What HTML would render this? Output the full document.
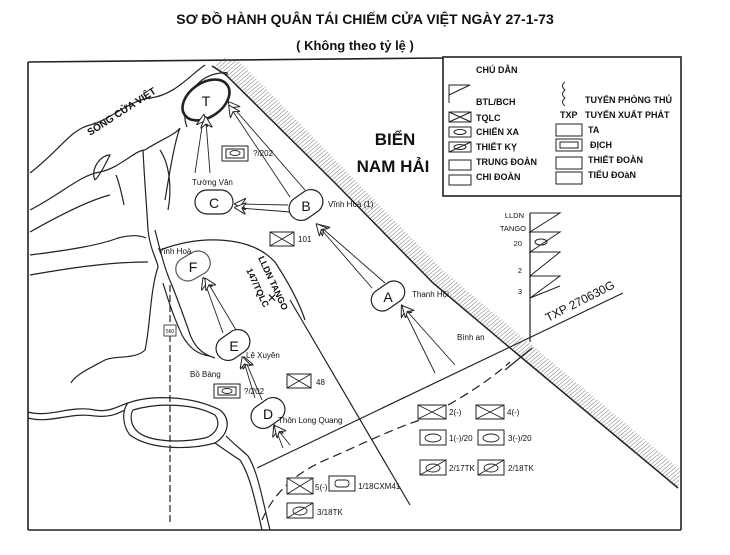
<!DOCTYPE html>
<html><head><meta charset="utf-8"><style>
body{margin:0;background:#fff;width:730px;height:555px;overflow:hidden}
svg{display:block}
text{font-family:"Liberation Sans",sans-serif;fill:#111}
</style></head><body>
<svg width="730" height="555" viewBox="0 0 730 555" xmlns="http://www.w3.org/2000/svg">
<defs>
<marker id="ah" viewBox="0 0 12 12" refX="6" refY="6" markerWidth="12" markerHeight="12" orient="auto" markerUnits="userSpaceOnUse">
<path d="M0,0 L12,6 L0,12 L4,6 Z" fill="#fff" stroke="#222" stroke-width="1"/></marker>
<pattern id="hat" width="3" height="3" patternUnits="userSpaceOnUse" patternTransform="rotate(50)">
<line x1="0" y1="0" x2="0" y2="3" stroke="#555" stroke-width="0.8"/></pattern>
</defs>
<text x="365" y="24" font-size="14" font-weight="bold" text-anchor="middle">SƠ ĐỒ HÀNH QUÂN TÁI CHIẾM CỬA VIỆT NGÀY 27-1-73</text>
<text x="355" y="50" font-size="13" font-weight="bold" text-anchor="middle">( Không theo tỷ lệ )</text>
<!-- frame -->
<g stroke="#222" stroke-width="1.6" fill="none">
<path d="M28,62 L443,58"/><path d="M28,62 L28,530"/><path d="M28,530 L681,530"/>
<path d="M681,196 L681,530"/>
<rect x="443" y="57" width="238" height="139"/>
</g>
<!-- coast hatch -->
<path d="M212,66 L226,75 L335,183 L433,283 L522,358 L678,488 L681,470 L533,346 L445,272 L347,172 L240,62 L225,58 Z" fill="url(#hat)"/>
<path d="M212,66 L226,75 L335,183 L433,283 L522,358 L678,488" fill="none" stroke="#222" stroke-width="1.5"/>
<!-- rivers -->
<g fill="none" stroke="#222" stroke-width="1.2">
<path d="M30,173 C60,150 70,130 90,125 C110,120 130,100 150,98 C175,95 190,75 205,65"/>
<path d="M30,210 C60,195 80,175 100,172 C120,168 135,150 145,150"/>
<path d="M145,150 C160,140 175,135 180,128 C175,140 170,170 165,200"/>
<path d="M187,127 C180,110 190,80 215,74 C225,72 230,72 226,75"/>
<path d="M30,232 C60,215 90,200 110,195"/>
<path d="M95,180 C90,170 100,155 110,155 C105,165 100,175 95,180"/>
<path d="M143,150 C145,190 147,210 148,230 C150,250 158,262 158,267 C150,290 150,330 145,350 C135,360 115,355 105,360 C90,368 75,375 71,383"/>
<path d="M155,230 C160,250 165,270 171,283 C178,300 185,320 191,337 C197,350 205,355 215,358"/>
<path d="M163,283 C168,300 175,320 182,335 C190,350 200,355 210,356"/>
<path d="M30,255 C70,250 100,245 118,238 C130,235 140,235 146,238"/>
<path d="M30,275 C70,268 110,262 148,262"/>
<path d="M116,175 C120,185 122,195 124,205"/>
<path d="M160,150 C170,165 172,190 168,210"/>
<path d="M28,412 C50,418 70,405 95,410 C110,413 120,405 128,403 C150,395 190,395 220,410 C232,420 228,435 215,443 C190,450 150,450 130,435 C122,425 122,410 128,403"/>
<path d="M28,418 C50,424 70,412 95,416 C112,418 120,412 125,410"/>
<path d="M133,410 C160,402 195,404 215,415 C222,425 215,435 205,438 C180,443 150,442 138,432 C130,425 130,415 133,410"/>
<path d="M215,443 C225,450 232,455 240,460 C250,475 255,500 262,530"/>
<path d="M226,436 C236,446 242,450 248,456 C258,472 262,498 270,530"/>
<path d="M170,285 L170,525" stroke-dasharray="7,3"/>
<path d="M160,250 C200,235 250,235 275,262 C290,285 300,305 305,320" />
<path d="M290,300 L410,505"/>
<path d="M257,468 L623,293"/>
<path d="M505,370 L532,348"/>
<path d="M530,213 L530,342"/>
<path d="M262,520 C275,490 300,470 330,458 C360,445 390,430 420,420 C460,400 490,380 510,362" stroke-dasharray="9,5"/>
</g>
<rect x="164" y="325" width="12" height="11" fill="#fff" stroke="#222" stroke-width="0.8"/>
<text x="170" y="333" font-size="5" text-anchor="middle">560</text>
<!-- Objective ellipses -->
<g fill="#fff" stroke="#222" stroke-width="1.2">
<ellipse cx="206" cy="100" rx="26" ry="17" transform="rotate(-35 206 100)" stroke-width="2.6"/>
<rect x="195" y="190" width="38" height="24" rx="12"/>
<rect x="288" y="193" width="36" height="24" rx="12" transform="rotate(-35 306 205)"/>
<rect x="370" y="285" width="36" height="22" rx="11" transform="rotate(-35 388 296)"/>
<rect x="175" y="254" width="36" height="24" rx="12" transform="rotate(-30 193 266)" stroke="#555"/>
<rect x="215" y="333" width="36" height="24" rx="12" transform="rotate(-35 233 345)"/>
<rect x="250" y="401" width="36" height="24" rx="12" transform="rotate(-35 268 413)"/>
</g>
<g font-size="14" text-anchor="middle">
<text x="206" y="106">T</text><text x="214" y="208">C</text><text x="306" y="211">B</text>
<text x="388" y="302">A</text><text x="193" y="272">F</text><text x="234" y="351">E</text><text x="268" y="419">D</text>
</g>
<!-- arrows -->
<g fill="none" stroke="#222" stroke-width="0.9" marker-end="url(#ah)">
<path d="M195,173 L203,120"/><path d="M210,173 L206,122"/>
<path d="M305,190 L232,106"/><path d="M290,197 L232,110"/>
<path d="M288,205 L240,204"/><path d="M290,212 L240,208"/>
<path d="M385,283 L322,228"/><path d="M372,288 L320,228"/>
<path d="M223,333 L205,283"/><path d="M236,330 L208,283"/>
<path d="M262,400 L246,362"/><path d="M255,398 L244,362"/>
<path d="M283,448 L276,430"/><path d="M290,445 L278,430"/>
<path d="M435,373 L404,310"/><path d="M455,365 L406,310"/>
</g>
<!-- labels -->
<text x="0" y="0" font-size="10" font-weight="bold" transform="translate(90,136) rotate(-33)">SÔNG CỬA VIỆT</text>
<text x="395" y="145" font-size="17" font-weight="bold" text-anchor="middle">BIỂN</text>
<text x="393" y="172" font-size="17" font-weight="bold" text-anchor="middle">NAM HẢI</text>
<g font-size="8">
<text x="192" y="185">Tường Vân</text><text x="328" y="207">Vĩnh Hoà (1)</text>
<text x="158" y="254">Vĩnh Hoà</text><text x="412" y="297">Thanh Hội</text>
<text x="457" y="340">Bình an</text><text x="246" y="358">Lệ Xuyên</text>
<text x="190" y="377">Bồ Bàng</text><text x="278" y="423">Thôn Long Quang</text>
<text x="253" y="156">?/202</text><text x="298" y="242">101</text><text x="316" y="385">48</text>
<text x="244" y="394">?/202</text>
</g>
<text x="0" y="0" font-size="9" font-weight="bold" transform="translate(258,258) rotate(65)">LLDN TANGO</text>
<text x="0" y="0" font-size="9" font-weight="bold" transform="translate(246,270) rotate(65)">147/TQLC</text>
<text x="272" y="302" font-size="12" text-anchor="middle">✕</text>
<text x="0" y="0" font-size="12" transform="translate(548,322) rotate(-27)">TXP 270630G</text>
<!-- unit boxes -->
<g fill="#fff" stroke="#222" stroke-width="1">
<rect x="222" y="146" width="26" height="15"/><rect x="226" y="149" width="18" height="9"/>
<rect x="270" y="232" width="24" height="14"/>
<rect x="287" y="374" width="24" height="14"/>
<rect x="214" y="384" width="26" height="14"/><rect x="218" y="387" width="18" height="8"/>
<rect x="418" y="405" width="28" height="14"/><rect x="476" y="405" width="28" height="14"/>
<rect x="420" y="430" width="26" height="15"/><rect x="478" y="430" width="26" height="15"/>
<rect x="420" y="460" width="26" height="15"/><rect x="478" y="460" width="26" height="15"/>
<rect x="287" y="478" width="26" height="16"/><rect x="329" y="476" width="26" height="15"/>
<rect x="287" y="503" width="26" height="15"/>
</g>
<g stroke="#222" stroke-width="0.9" fill="none">
<path d="M270,232 L294,246 M294,232 L270,246 M287,374 L311,388 M311,374 L287,388"/>
<path d="M418,405 L446,419 M446,405 L418,419 M476,405 L504,419 M504,405 L476,419 M287,478 L313,494 M313,478 L287,494"/>
<path d="M420,475 L446,460 M478,475 L504,460 M287,518 L313,503"/>
<ellipse cx="235" cy="153" rx="5" ry="2.5"/><ellipse cx="227" cy="391" rx="5" ry="2.5"/>
<ellipse cx="433" cy="438" rx="8" ry="4"/><ellipse cx="491" cy="438" rx="8" ry="4"/>
<ellipse cx="433" cy="468" rx="7" ry="4"/><ellipse cx="491" cy="468" rx="7" ry="4"/>
<ellipse cx="300" cy="511" rx="7" ry="4"/><rect x="335" y="480" width="14" height="7" rx="3"/>
</g>
<g font-size="8">
<text x="449" y="415">2(-)</text><text x="507" y="415">4(-)</text>
<text x="449" y="441">1(-)/20</text><text x="508" y="441">3(-)/20</text>
<text x="449" y="471">2/17TK</text><text x="508" y="471">2/18TK</text>
<text x="315" y="490">5(-)</text><text x="358" y="489">1/18CXM41</text>
<text x="317" y="515">3/18TK</text>
</g>
<!-- LLDN stack -->
<g stroke="#222" stroke-width="1" fill="none">
<path d="M530,213 L560,213 L530,232 L560,232 L530,252 L560,252 L530,276 L560,276 L530,298 L560,286"/>
<ellipse cx="541" cy="242" rx="6" ry="3"/>
</g>
<g font-size="7.5" text-anchor="end"><text x="524" y="218">LLDN</text><text x="526" y="231">TANGO</text><text x="522" y="246">20</text><text x="522" y="273">2</text><text x="522" y="294">3</text></g>
<!-- legend -->
<g font-size="9" font-weight="bold">
<text x="476" y="73">CHÚ DẪN</text>
<text x="476" y="105">BTL/BCH</text><text x="476" y="121">TQLC</text>
<text x="476" y="135">CHIẾN XA</text><text x="476" y="150">THIẾT KỴ</text>
<text x="476" y="165">TRUNG ĐOÀN</text><text x="476" y="180">CHI ĐOÀN</text>
<text x="585" y="103">TUYẾN PHÒNG THỦ</text><text x="560" y="118">TXP</text>
<text x="585" y="118">TUYẾN XUẤT PHÁT</text><text x="588" y="133">TA</text>
<text x="590" y="148">ĐỊCH</text><text x="588" y="163">THIẾT ĐOÀN</text><text x="588" y="178">TIỂU ĐOàN</text>
</g>
<g stroke="#222" stroke-width="1" fill="none">
<path d="M449,103 L449,85 L470,85 L449,95"/>
<rect x="449" y="112" width="22" height="10"/><path d="M449,112 L471,122 M449,122 L471,112"/>
<rect x="449" y="127" width="22" height="10"/><ellipse cx="460" cy="132" rx="6" ry="2.5"/>
<rect x="449" y="142" width="22" height="10"/><ellipse cx="460" cy="147" rx="6" ry="2.5"/><path d="M449,152 L471,142"/>
<rect x="449" y="160" width="22" height="10"/><rect x="449" y="175" width="22" height="10"/>
<path d="M565,82 Q560,86 565,90 Q560,94 565,98 Q560,102 565,106"/>
<rect x="556" y="124" width="26" height="12"/>
<rect x="556" y="139" width="26" height="12"/><rect x="560" y="142" width="18" height="6"/>
<rect x="556" y="157" width="26" height="12"/><rect x="556" y="172" width="26" height="12"/>
</g>
</svg>
</body></html>
